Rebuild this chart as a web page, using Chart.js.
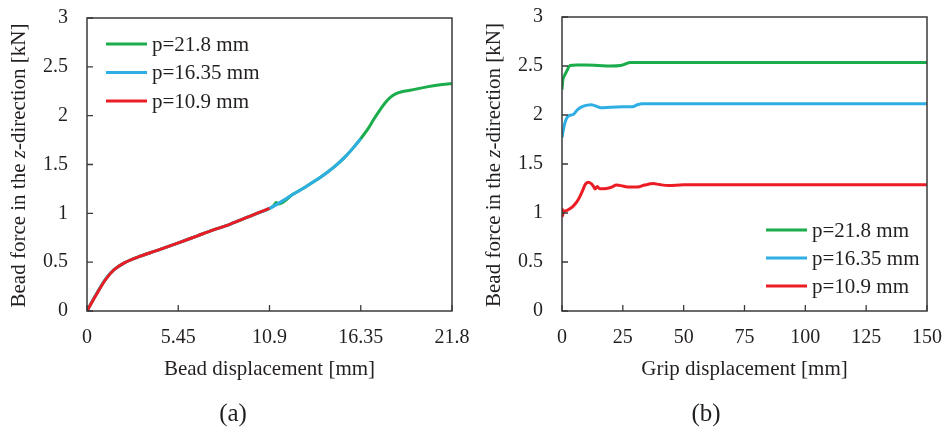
<!DOCTYPE html>
<html>
<head>
<meta charset="utf-8">
<script src="https://cdn.jsdelivr.net/npm/chart.js@4"></script>
<style>
  html, body { margin: 0; padding: 0; background: #fff; }
  #wrap { position: relative; width: 948px; height: 427px; overflow: hidden; }
  canvas { position: absolute; top: 0; }
  #ca { left: 0; }
  #cb { left: 474px; }
</style>
</head>
<body>
<div id="wrap">
  <canvas id="ca" width="474" height="427"></canvas>
  <canvas id="cb" width="474" height="427"></canvas>
</div>
<script>
// ---- Panel (a): bead force vs bead displacement ----
const seriesNames = ['p=21.8 mm', 'p=16.35 mm', 'p=10.9 mm'];
const seriesColors = ['#1bad4b', '#2eaee3', '#ec1c24'];

const aTickVals = [0, 5.45, 10.9, 16.35, 21.8];
const aTickLabels = ['0', '5.45', '10.9', '16.35', '21.8'];
const yTickVals = [0, 0.5, 1, 1.5, 2, 2.5, 3];
const yTickLabels = ['0', '0.5', '1', '1.5', '2', '2.5', '3'];

const aRedX = [0, 0.5, 1.1, 1.6, 2.2, 3.0, 4.2, 5.5, 6.6, 7.55, 8.5, 9.15, 10.0, 10.9];
const aRedY = [0, 0.15, 0.32, 0.42, 0.49, 0.55, 0.62, 0.70, 0.77, 0.83, 0.885, 0.93, 0.99, 1.05];

const aBlueX = [0, 0.5, 1.1, 1.6, 2.2, 3.0, 4.2, 5.5, 6.6, 7.55, 8.5, 9.15, 10.0, 10.9, 11.6, 12.3, 13.0, 13.6, 14.2, 14.8, 15.4, 15.9, 16.35];
const aBlueY = [0, 0.155, 0.325, 0.42, 0.49, 0.55, 0.62, 0.70, 0.77, 0.83, 0.885, 0.93, 0.99, 1.05, 1.12, 1.195, 1.265, 1.33, 1.40, 1.48, 1.575, 1.67, 1.765];

const aGreenX = [0, 0.5, 1.1, 1.6, 2.2, 3.0, 4.2, 5.5, 6.6, 7.55, 8.5, 9.15, 10.0, 10.9, 11.15, 11.3, 11.45, 12.3, 13.0, 13.6, 14.2, 14.8, 15.4, 15.9, 16.35, 16.8, 17.1, 17.5, 17.8, 18.1, 18.4, 18.8, 19.3, 20.3, 21.0, 21.8];
const aGreenY = [0, 0.155, 0.325, 0.42, 0.49, 0.55, 0.62, 0.70, 0.77, 0.83, 0.885, 0.93, 0.99, 1.05, 1.08, 1.11, 1.095, 1.195, 1.265, 1.33, 1.40, 1.48, 1.575, 1.67, 1.765, 1.87, 1.955, 2.06, 2.13, 2.185, 2.22, 2.245, 2.26, 2.295, 2.315, 2.33];

// ---- Panel (b): bead force vs grip displacement ----
const bTickVals = [0, 25, 50, 75, 100, 125, 150];
const bTickLabels = ['0', '25', '50', '75', '100', '125', '150'];

const bGreenX = [0, 0.3, 1, 2, 3.3, 6, 10, 15, 20, 24, 26, 28, 30, 40, 60, 80, 100, 120, 150];
const bGreenY = [2.26, 2.35, 2.40, 2.45, 2.505, 2.51, 2.51, 2.505, 2.50, 2.505, 2.52, 2.535, 2.535, 2.535, 2.535, 2.535, 2.535, 2.535, 2.535];

const bBlueX = [0, 0.5, 1.2, 2.6, 4.6, 6.4, 8.8, 12, 16, 20, 25, 29, 31, 33, 40, 60, 80, 100, 120, 150];
const bBlueY = [1.77, 1.84, 1.92, 1.99, 2.005, 2.055, 2.09, 2.105, 2.075, 2.08, 2.083, 2.085, 2.105, 2.115, 2.115, 2.115, 2.115, 2.115, 2.115, 2.115];

const bRedX = [0, 0.2, 0.6, 1.2, 3, 4.6, 6, 7.4, 8.5, 9.5, 10.8, 12, 13, 13.6, 14.5, 15.3, 17, 20, 22.5, 25, 27.5, 31, 34, 37.5, 40, 43.7, 50, 60, 80, 100, 120, 150];
const bRedY = [1.05, 0.97, 1.02, 1.02, 1.04, 1.07, 1.11, 1.17, 1.23, 1.29, 1.315, 1.30, 1.27, 1.245, 1.27, 1.25, 1.247, 1.26, 1.285, 1.275, 1.265, 1.265, 1.285, 1.30, 1.29, 1.28, 1.288, 1.288, 1.288, 1.288, 1.288, 1.288];

const SERIF = "'Liberation Serif', 'Times New Roman', serif";
const INK = '#231f20';

function pts(xs, ys) { return xs.map((x, i) => ({ x: x, y: ys[i] })); }

function lineSet(label, color, xs, ys) {
  return {
    label: label,
    data: pts(xs, ys),
    borderColor: color,
    backgroundColor: color,
    borderWidth: 3,
    pointRadius: 0,
    cubicInterpolationMode: 'monotone',
    fill: false
  };
}

// Frame, inward ticks, axis titles, legend and panel tag
const decorPlugin = {
  id: 'decor',
  afterDraw(chart, args, o) {
    const ctx = chart.ctx;
    const a = chart.chartArea;
    const xs = chart.scales.x, ys = chart.scales.y;
    ctx.save();
    ctx.strokeStyle = '#3a3a3a';
    ctx.lineWidth = 1.5;
    ctx.strokeRect(a.left, a.top, a.right - a.left, a.bottom - a.top);
    ctx.lineWidth = 1.3;
    ctx.beginPath();
    xs.ticks.forEach(t => {
      const px = xs.getPixelForValue(t.value);
      ctx.moveTo(px, a.bottom); ctx.lineTo(px, a.bottom - 6);
    });
    ys.ticks.forEach(t => {
      const py = ys.getPixelForValue(t.value);
      ctx.moveTo(a.left, py); ctx.lineTo(a.left + 6, py);
    });
    ctx.stroke();

    // x title
    ctx.fillStyle = INK;
    ctx.font = '21px ' + SERIF;
    ctx.textAlign = 'center';
    ctx.textBaseline = 'middle';
    ctx.fillText(o.xTitle, (a.left + a.right) / 2, o.xTitleY);

    // y title with italic z
    const parts = [
      { t: 'Bead force in the ', f: '21px ' + SERIF },
      { t: 'z', f: 'italic 21px ' + SERIF },
      { t: '-direction [kN]', f: '21px ' + SERIF }
    ];
    let total = 0;
    parts.forEach(p => { ctx.font = p.f; p.w = ctx.measureText(p.t).width; total += p.w; });
    ctx.save();
    ctx.translate(o.yTitleX, (a.top + a.bottom) / 2 + 1);
    ctx.rotate(-Math.PI / 2);
    ctx.textAlign = 'left';
    let cx = -total / 2;
    parts.forEach(p => { ctx.font = p.f; ctx.fillText(p.t, cx, 0); cx += p.w; });
    ctx.restore();

    // legend
    ctx.font = '21px ' + SERIF;
    ctx.textAlign = 'left';
    o.legendOrder.forEach((di, k) => {
      const ds = chart.data.datasets[di];
      const y = o.legendY + k * o.legendGap;
      ctx.strokeStyle = ds.borderColor;
      ctx.lineWidth = 3;
      ctx.beginPath();
      ctx.moveTo(o.legendX, y); ctx.lineTo(o.legendX + 41, y);
      ctx.stroke();
      ctx.fillStyle = INK;
      ctx.fillText(ds.label, o.legendX + 46, y + 1);
    });

    // panel tag
    ctx.font = '25px ' + SERIF;
    ctx.textAlign = 'center';
    ctx.fillText(o.tag, o.tagX, 414);
    ctx.restore();
  }
};

function makeChart(canvasId, cfg) {
  return new Chart(document.getElementById(canvasId), {
    type: 'line',
    data: { datasets: cfg.datasets },
    options: {
      responsive: false,
      animation: false,
      devicePixelRatio: 1,
      layout: { padding: { left: 0, right: cfg.padRight, top: cfg.padTop, bottom: 0 } },
      plugins: {
        legend: { display: false },
        tooltip: { enabled: false },
        decor: cfg.decor
      },
      scales: {
        x: {
          type: 'linear',
          min: cfg.xMin, max: cfg.xMax,
          grid: { display: false, drawTicks: false },
          border: { display: false },
          afterBuildTicks: s => { s.ticks = cfg.xTicks.map(v => ({ value: v })); },
          afterFit: s => { s.height = 427 - cfg.bottom; s.paddingLeft = 0; s.paddingRight = 0; },
          ticks: {
            autoSkip: false, maxRotation: 0, padding: 15,
            color: INK, font: { family: SERIF, size: 20 },
            callback: (v, i) => cfg.xLabels[i]
          }
        },
        y: {
          type: 'linear',
          min: 0, max: 3,
          grid: { display: false, drawTicks: false },
          border: { display: false },
          afterBuildTicks: s => { s.ticks = yTickVals.map(v => ({ value: v })); },
          afterFit: s => { s.width = cfg.yWidth; s.paddingTop = 0; s.paddingBottom = 0; },
          ticks: {
            autoSkip: false, padding: 19,
            color: INK, font: { family: SERIF, size: 20 },
            callback: (v, i) => yTickLabels[i]
          }
        }
      }
    },
    plugins: [decorPlugin]
  });
}

makeChart('ca', {
  datasets: [
    lineSet(seriesNames[2], seriesColors[2], aRedX, aRedY),
    lineSet(seriesNames[1], seriesColors[1], aBlueX, aBlueY),
    lineSet(seriesNames[0], seriesColors[0], aGreenX, aGreenY)
  ],
  xMin: 0, xMax: 21.8, xTicks: aTickVals, xLabels: aTickLabels,
  yWidth: 87, padRight: 22, padTop: 18, bottom: 311,
  decor: {
    xTitle: 'Bead displacement [mm]', xTitleY: 369, yTitleX: 19,
    legendOrder: [2, 1, 0], legendX: 106, legendY: 44, legendGap: 28.5,
    tag: '(a)', tagX: 233
  }
});

makeChart('cb', {
  datasets: [
    lineSet(seriesNames[2], seriesColors[2], bRedX, bRedY),
    lineSet(seriesNames[1], seriesColors[1], bBlueX, bBlueY),
    lineSet(seriesNames[0], seriesColors[0], bGreenX, bGreenY)
  ],
  xMin: 0, xMax: 150, xTicks: bTickVals, xLabels: bTickLabels,
  yWidth: 88, padRight: 21, padTop: 17, bottom: 311,
  decor: {
    xTitle: 'Grip displacement [mm]', xTitleY: 369, yTitleX: 20,
    legendOrder: [2, 1, 0], legendX: 292, legendY: 230, legendGap: 28,
    tag: '(b)', tagX: 232
  }
});
</script>
</body>
</html>
